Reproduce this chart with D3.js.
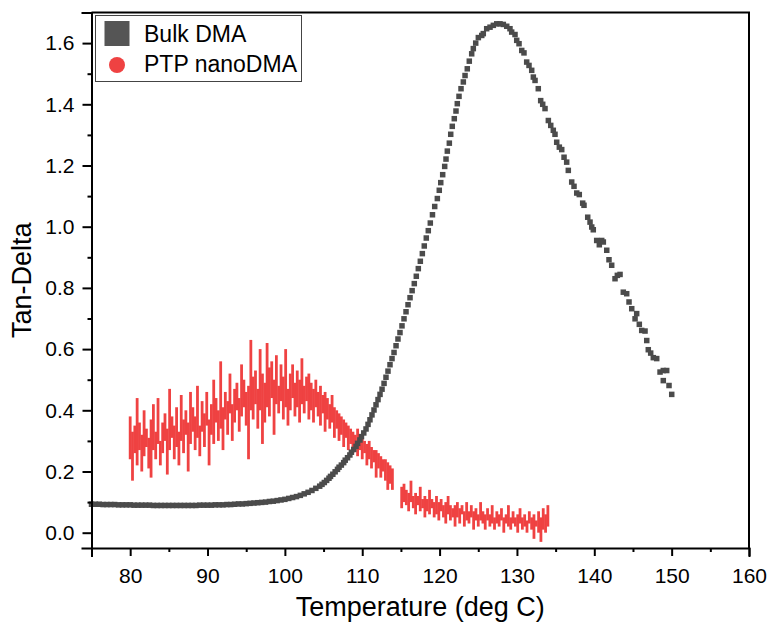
<!DOCTYPE html>
<html>
<head>
<meta charset="utf-8">
<script src="https://cdn.jsdelivr.net/npm/d3@7"></script>
<style>
  body { margin: 0; background: #fff; }
  svg { display: block; font-family: "Liberation Sans", Arial, sans-serif; }
  .axis path, .axis line { stroke: #000; stroke-width: 2; }
  .axis text { font-size: 21px; fill: #000; font-family: "Liberation Sans", Arial, sans-serif; }
</style>
</head>
<body>
<div id="chart"></div>
<script>
// Bulk DMA tan-delta, [temperature, tan delta]
var bulkDMA = [
  [75.0,.093],[75.5,.093],[76,.093],[76.5,.092],[77,.092],[77.5,.092],[78,.092],[78.5,.091],[79,.091],[79.5,.091],
  [80,.091],[80.5,.090],[81,.090],[81.5,.090],[82,.090],[82.5,.090],[83,.089],[83.5,.089],[84,.089],[84.5,.089],
  [85,.089],[85.5,.089],[86,.089],[86.5,.089],[87,.089],[87.5,.089],[88,.089],[88.5,.089],[89,.090],[89.5,.090],
  [90,.090],[90.5,.090],[91,.091],[91.5,.091],[92,.091],[92.5,.092],[93,.092],[93.5,.093],[94,.094],[94.5,.094],
  [95,.095],[95.5,.096],[96,.097],[96.5,.098],[97,.099],[97.5,.100],[98,.102],[98.5,.103],[99,.105],[99.5,.107],
  [100,.109],[100.5,.112],[101,.115],[101.5,.118],[102,.122],[102.5,.127],[103,.132],[103.5,.138],[104,.145],[104.5,.152],
  [104.8,.158],[105.1,.164],[105.4,.171],[105.7,.178],[105.9,.184],[106.2,.191],[106.5,.199],[106.8,.207],[107.0,.214],
  [107.3,.221],[107.6,.229],[107.8,.237],[108.1,.245],[108.4,.254],[108.6,.263],[108.9,.272],[109.2,.282],[109.4,.292],
  [109.7,.303],[109.9,.314],[110.2,.326],[110.49,.339],[110.75,.354],[111.0,.369],[111.26,.385],[111.52,.401],
  [111.78,.418],[112.04,.435],[112.30,.452],[112.56,.469],[112.82,.488],[113.07,.508],[113.33,.528],[113.59,.549],
  [113.85,.569],[114.11,.589],[114.37,.611],[114.62,.633],[114.88,.654],[115.14,.676],[115.40,.699],[115.66,.722],
  [115.92,.745],[116.18,.768],[116.45,.791],[116.73,.814],[116.99,.838],[117.25,.863],[117.51,.887],[117.77,.912],
  [118.02,.937],[118.28,.963],[118.54,.987],[118.8,1.012],[119.08,1.039],[119.37,1.066],[119.71,1.092],[119.96,1.119],
  [120.15,1.144],[120.40,1.170],[120.66,1.197],[120.83,1.221],[121.0,1.247],[121.26,1.273],[121.44,1.302],[121.64,1.328],
  [121.90,1.353],[122.12,1.378],[122.29,1.402],[122.51,1.426],[122.77,1.451],[123.07,1.473],[123.29,1.494],[123.58,1.516],
  [123.84,1.541],[124.15,1.565],[124.36,1.582],[124.67,1.600],[125.01,1.618],[125.45,1.625],[125.65,1.631],[126.09,1.647],
  [126.52,1.652],[126.95,1.658],[127.39,1.663],[127.81,1.663],[128.24,1.661],[128.68,1.655],[129.10,1.647],[129.32,1.636],
  [129.75,1.628],[129.97,1.609],[130.27,1.598],[130.62,1.576],[130.91,1.568],[131.26,1.538],[131.56,1.527],[131.91,1.511],
  [132.12,1.489],[132.34,1.478],[132.76,1.451],[133.07,1.412],[133.33,1.400],[133.63,1.386],[134.06,1.347],[134.37,1.331],
  [134.70,1.315],[134.92,1.302],[135.14,1.276],[135.48,1.260],[135.79,1.252],[136.09,1.227],[136.43,1.211],[136.64,1.184],
  [137.08,1.146],[137.38,1.132],[137.73,1.110],[138.06,1.105],[138.50,1.077],[138.67,1.070],[139.15,1.031],[139.45,1.015],
  [139.67,.999],[139.87,.990],[140.31,.955],[140.65,.941],[140.96,.955],[141.17,.950],[141.61,.923],[141.90,.892],
  [142.25,.874],[142.68,.830],[142.98,.841],[143.33,.844],[143.75,.786],[144.19,.781],[144.49,.754],[144.84,.732],
  [145.27,.699],[145.48,.716],[145.82,.681],[146.13,.661],[146.56,.659],[146.78,.628],[146.98,.598],[147.29,.587],
  [147.63,.572],[148.07,.569],[148.50,.525],[148.92,.530],[149.36,.530],[148.92,.497],[149.66,.481],[150.01,.452]
];

// PTP nanoDMA, noisy cloud: [temperature, low, high] spread at each reading
var nanoPart1 = [
  [80.0,.24,.38],[80.3,.17,.33],[80.6,.26,.35],[80.9,.22,.44],[81.2,.27,.36],[81.5,.20,.32],[81.8,.25,.40],[82.1,.28,.34],
  [82.4,.21,.31],[82.7,.18,.37],[83.0,.27,.42],[83.3,.24,.33],[83.6,.29,.44],[83.9,.22,.30],[84.2,.26,.36],[84.5,.30,.39],
  [84.8,.19,.34],[85.1,.27,.47],[85.4,.31,.38],[85.7,.24,.35],[86.0,.28,.41],[86.3,.22,.33],[86.6,.30,.45],[86.9,.26,.37],
  [87.2,.32,.40],[87.5,.20,.36],[87.8,.29,.46],[88.1,.33,.41],[88.4,.27,.38],[88.7,.31,.48],[89.0,.25,.35],[89.3,.33,.43],
  [89.6,.28,.39],[89.9,.35,.46],[90.2,.22,.37],[90.5,.32,.42],[90.8,.29,.50],[91.1,.36,.44],[91.4,.30,.40],[91.7,.34,.56],
  [92.0,.27,.41],[92.3,.37,.46],[92.6,.32,.43],[92.9,.39,.52],[93.2,.30,.42],[93.5,.36,.47],[93.8,.40,.49],[94.1,.33,.44],
  [94.4,.38,.55],[94.7,.41,.50],[95.0,.35,.46],[95.3,.24,.48],[95.6,.40,.63],[95.9,.37,.51],[96.2,.42,.53],[96.5,.34,.47],
  [96.8,.40,.60],[97.1,.29,.52],[97.4,.36,.49],[97.7,.41,.62],[98.0,.38,.54],[98.3,.44,.56],[98.6,.32,.50],[98.9,.42,.58],
  [99.2,.39,.48],[99.5,.43,.55],[99.8,.37,.51],[100.1,.41,.60],[100.4,.35,.47],[100.7,.40,.52],[101.0,.44,.55],[101.3,.38,.49],
  [101.6,.41,.53],[101.9,.36,.50],[102.2,.42,.57],[102.5,.39,.48],[102.8,.43,.51],[103.1,.37,.52],[103.4,.40,.49],[103.7,.36,.47],
  [104.0,.41,.50],[104.3,.38,.46],[104.6,.35,.48],[104.9,.39,.45],[105.2,.33,.46],[105.5,.37,.44],[105.8,.34,.42],[106.1,.36,.45],
  [106.4,.31,.41],[106.7,.34,.40],[107.0,.30,.39],[107.3,.32,.38],[107.6,.28,.37],[107.9,.31,.36],[108.2,.27,.35],[108.5,.29,.34],
  [108.8,.26,.33],[109.1,.28,.32],[109.4,.25,.34],[109.7,.27,.31],[110.0,.24,.32],[110.3,.26,.30],[110.6,.22,.29],[110.9,.24,.30],
  [111.2,.21,.28],[111.5,.23,.27],[111.8,.18,.27],[112.1,.21,.26],[112.4,.18,.25],[112.7,.20,.24],[113.0,.17,.24],[113.3,.14,.23],
  [113.6,.16,.22],[113.9,.14,.21]
];
var nanoPart2 = [
  [115.1,.08,.15],[115.4,.10,.16],[115.7,.09,.14],[116.0,.07,.13],[116.3,.10,.17],[116.6,.08,.12],[116.9,.06,.13],[117.2,.09,.12],
  [117.5,.07,.15],[117.8,.08,.11],[118.1,.05,.12],[118.4,.07,.11],[118.7,.06,.14],[119.0,.08,.11],[119.3,.05,.10],[119.6,.06,.12],
  [119.9,.04,.10],[120.2,.07,.11],[120.5,.05,.09],[120.8,.03,.10],[121.1,.06,.12],[121.4,.04,.09],[121.7,.05,.08],[122.0,.02,.09],
  [122.3,.05,.10],[122.6,.03,.08],[122.9,.06,.09],[123.2,.02,.07],[123.5,.04,.10],[123.8,.03,.07],[124.1,.05,.09],[124.4,.01,.07],
  [124.7,.04,.08],[125.0,.02,.06],[125.3,.04,.10],[125.6,.03,.07],[125.9,.01,.06],[126.2,.04,.08],[126.5,.02,.06],[126.8,.03,.09],
  [127.1,.01,.05],[127.4,.03,.07],[127.7,.02,.06],[128.0,.04,.08],[128.3,.00,.05],[128.6,.03,.06],[128.9,.02,.09],[129.2,.01,.05],
  [129.5,.03,.07],[129.8,.02,.05],[130.1,.00,.06],[130.4,.03,.08],[130.7,.01,.05],[131.0,.02,.06],[131.3,.00,.04],[131.6,.03,.07],
  [131.9,.01,.05],[132.2,-.02,.06],[132.5,.02,.04],[132.8,.00,.07],[133.1,-.03,.05],[133.4,.01,.08],[133.7,.00,.06],[134.0,.02,.09]
];

var xTicks = [80, 90, 100, 110, 120, 130, 140, 150, 160];
var xMinor = [75, 85, 95, 105, 115, 125, 135, 145, 155];
var yTicks = [0, 0.2, 0.4, 0.6, 0.8, 1.0, 1.2, 1.4, 1.6];
var yMinor = [0.1, 0.3, 0.5, 0.7, 0.9, 1.1, 1.3, 1.5];
var seriesNames = ['Bulk DMA', 'PTP nanoDMA'];

var W = 769, H = 629;
var bulkColor = '#4b4b4b', nanoColor = '#ef4242';

var x = d3.scaleLinear().domain([75, 160]).range([91.5, 749]);
var y = d3.scaleLinear().domain([-0.05, 1.7]).range([548, 12.5]);

var svg = d3.select('#chart').append('svg')
    .attr('width', W)
    .attr('height', H);

// nanoDMA cloud, one vertical run of readings per temperature step
var nano = svg.append('g');
[nanoPart1, nanoPart2].forEach(function(part) {
    nano.selectAll(null).data(part).enter().append('line')
        .attr('x1', function(d) { return x(d[0]); })
        .attr('x2', function(d) { return x(d[0]); })
        .attr('y1', function(d) { return y(d[1]); })
        .attr('y2', function(d) { return y(d[2]); })
        .attr('stroke', nanoColor)
        .attr('stroke-width', 2.8);
});

// bulk squares
var sq = 5.5;
svg.append('g').selectAll('rect').data(bulkDMA).enter().append('rect')
    .attr('x', function(d) { return x(d[0]) - sq / 2; })
    .attr('y', function(d) { return y(d[1]) - sq / 2; })
    .attr('width', sq)
    .attr('height', sq)
    .attr('fill', bulkColor);

// axes
svg.append('g').attr('class', 'axis')
    .attr('transform', 'translate(0,' + y(-0.05) + ')')
    .call(d3.axisBottom(x).tickValues(xTicks).tickSize(8).tickPadding(12).tickFormat(d3.format('d')));
svg.append('g').attr('class', 'axis')
    .attr('transform', 'translate(0,' + y(-0.05) + ')')
    .call(d3.axisBottom(x).tickValues(xMinor).tickSize(4).tickFormat(''))
    .select('.domain').remove();

svg.append('g').attr('class', 'axis')
    .attr('transform', 'translate(' + x(75) + ',0)')
    .call(d3.axisLeft(y).tickValues(yTicks).tickSize(9).tickPadding(8).tickFormat(d3.format('.1f')));
svg.append('g').attr('class', 'axis')
    .attr('transform', 'translate(' + x(75) + ',0)')
    .call(d3.axisLeft(y).tickValues(yMinor).tickSize(4).tickFormat(''))
    .select('.domain').remove();

svg.selectAll('.axis .domain').attr('stroke-linecap', 'square');

// top and right frame
svg.append('path')
    .attr('d', 'M' + x(75) + ',' + y(1.7) + 'H' + x(160) + 'V' + y(-0.05))
    .attr('fill', 'none')
    .attr('stroke', '#000')
    .attr('stroke-width', 2);

// axis titles
svg.append('text')
    .attr('x', (x(75) + x(160)) / 2)
    .attr('y', 616)
    .attr('text-anchor', 'middle')
    .style('font-size', '27px')
    .text('Temperature (deg C)');

svg.append('text')
    .attr('transform', 'translate(31,' + (y(-0.05) + y(1.7)) / 2 + ') rotate(-90)')
    .attr('text-anchor', 'middle')
    .style('font-size', '27px')
    .text('Tan-Delta');

// legend
var lg = svg.append('g');
lg.append('rect')
    .attr('x', 95.5).attr('y', 15.5)
    .attr('width', 206).attr('height', 66)
    .attr('fill', '#fff')
    .attr('stroke', '#444')
    .attr('stroke-width', 1);
lg.append('rect')
    .attr('x', 104.5).attr('y', 21)
    .attr('width', 25).attr('height', 25)
    .attr('fill', '#555');
lg.append('circle')
    .attr('cx', 117).attr('cy', 65).attr('r', 8)
    .attr('fill', nanoColor);
lg.selectAll('text').data(seriesNames).enter().append('text')
    .attr('x', 144)
    .attr('y', function(d, i) { return 42 + i * 30; })
    .style('font-size', '23px')
    .text(function(d) { return d; });
</script>
</body>
</html>
